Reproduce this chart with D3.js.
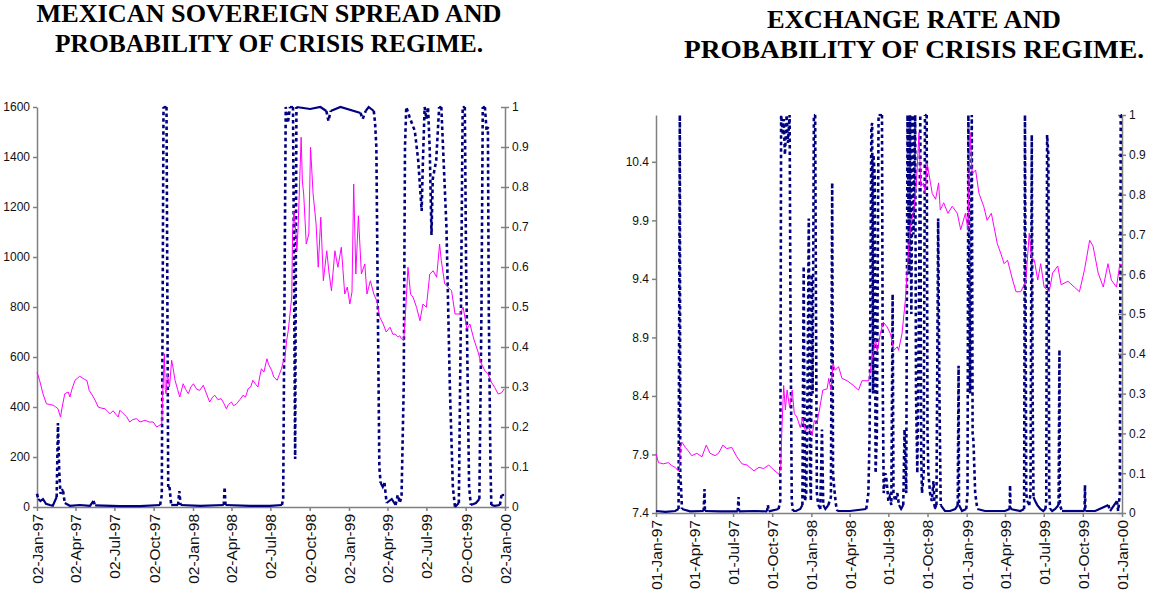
<!DOCTYPE html>
<meta charset="utf-8">
<title>Crisis regime probability</title>
<style>
    body { margin: 0; background: #fff; }
    .title { font: bold 25px "Liberation Serif", "Times New Roman", serif; fill: #000; text-anchor: middle; }
    .axis text { font: 12px "Liberation Sans", Arial, sans-serif; fill: #111; }
    .axis--x text { font-size: 15.5px; }
    .axis path, .axis line { stroke: #808080; stroke-width: 1.5; }
</style>
<body>
<svg id="chart" width="1151" height="593"></svg>
<script src="https://d3js.org/d3.v7.min.js"></script>
<script>
    // ---- data ----
    // Mexican sovereign spread (basis points), left panel
    var spreadSeries = [
        ["1997-01-02",540],["1997-01-08",507],["1997-01-16",453],["1997-01-24",413],["1997-02-01",410],["1997-02-09",407],
        ["1997-02-15",400],["1997-02-20",393],["1997-02-26",360],["1997-03-02",400],["1997-03-08",453],["1997-03-16",460],
        ["1997-03-20",440],["1997-03-24",467],["1997-04-01",507],["1997-04-12",523],["1997-04-24",510],["1997-04-29",505],
        ["1997-05-04",467],["1997-05-14",440],["1997-05-20",420],["1997-05-25",400],["1997-06-03",395],["1997-06-10",393],
        ["1997-06-22",373],["1997-06-29",385],["1997-07-06",370],["1997-07-11",360],["1997-07-15",387],["1997-07-22",375],
        ["1997-07-31",360],["1997-08-07",340],["1997-08-14",350],["1997-08-23",353],["1997-08-31",340],["1997-09-12",347],
        ["1997-09-21",340],["1997-10-01",340],["1997-10-09",320],["1997-10-14",325],["1997-10-21",333],["1997-10-23",450],
        ["1997-10-27",613],["1997-10-29",470],["1997-10-31",453],["1997-11-03",533],["1997-11-08",480],["1997-11-13",587],
        ["1997-11-16",560],["1997-11-21",507],["1997-11-27",470],["1997-12-02",440],["1997-12-10",493],["1997-12-16",470],
        ["1997-12-22",453],["1997-12-28",480],["1998-01-03",493],["1998-01-11",470],["1998-01-18",467],["1998-01-26",487],
        ["1998-02-01",460],["1998-02-10",420],["1998-02-17",440],["1998-02-22",447],["1998-03-01",430],["1998-03-09",433],
        ["1998-03-15",415],["1998-03-21",393],["1998-03-26",410],["1998-04-02",420],["1998-04-07",405],["1998-04-14",413],
        ["1998-04-22",430],["1998-04-29",447],["1998-05-05",440],["1998-05-11",473],["1998-05-17",480],["1998-05-22",507],
        ["1998-05-29",490],["1998-06-03",480],["1998-06-07",520],["1998-06-11",553],["1998-06-17",540],["1998-06-24",593],
        ["1998-06-28",570],["1998-07-05",547],["1998-07-10",520],["1998-07-18",507],["1998-07-23",530],["1998-07-28",553],
        ["1998-08-01",580],["1998-08-05",593],["1998-08-09",665],["1998-08-13",707],["1998-08-17",773],["1998-08-21",840],
        ["1998-08-23",1100],["1998-08-26",1185],["1998-08-31",1090],["1998-09-02",1025],["1998-09-05",1118],["1998-09-12",1479],
        ["1998-09-15",1300],["1998-09-18",1252],["1998-09-24",1052],["1998-09-30",1092],["1998-10-04",1439],["1998-10-10",1252],
        ["1998-10-17",1132],["1998-10-22",959],["1998-10-28",1159],["1998-11-03",905],["1998-11-11",1025],["1998-11-16",940],
        ["1998-11-22",865],["1998-11-30",1025],["1998-12-07",959],["1998-12-15",1039],["1998-12-23",852],["1998-12-29",880],
        ["1999-01-04",812],["1999-01-09",860],["1999-01-13",1292],["1999-01-18",932],["1999-01-24",1165],["1999-01-31",932],
        ["1999-02-08",972],["1999-02-13",852],["1999-02-21",905],["1999-03-01",852],["1999-03-08",825],["1999-03-15",759],
        ["1999-03-23",732],["1999-03-30",700],["1999-04-08",719],["1999-04-15",690],["1999-04-20",692],["1999-04-27",680],
        ["1999-05-01",685],["1999-05-05",672],["1999-05-10",665],["1999-05-15",800],["1999-05-20",959],["1999-05-26",852],
        ["1999-06-01",839],["1999-06-09",799],["1999-06-17",745],["1999-06-24",812],["1999-07-02",799],["1999-07-10",932],
        ["1999-07-18",945],["1999-07-26",919],["1999-08-02",1052],["1999-08-06",985],["1999-08-14",892],["1999-08-22",879],
        ["1999-08-30",865],["1999-09-07",772],["1999-09-19",772],["1999-09-26",799],["1999-10-05",712],["1999-10-12",732],
        ["1999-10-21",672],["1999-10-31",620],["1999-11-07",576],["1999-11-16",545],["1999-11-23",533],["1999-12-01",500],
        ["1999-12-09",478],["1999-12-17",452],["1999-12-25",457],["1999-12-31",472]
    ];

    // probability of crisis regime, left panel
    var spreadProb = [
        ["1997-01-02",0.033],["1997-01-05",0.02],["1997-01-10",0.015],["1997-01-16",0.02],["1997-01-23",0.008],["1997-02-01",0.005],
        ["1997-02-08",0.003],["1997-02-17",0.025],["1997-02-20",0.21],["1997-02-23",0.09],["1997-02-26",0.033],["1997-03-01",0.045],
        ["1997-03-04",0.04],["1997-03-08",0.01],["1997-03-20",0.003],["1997-04-12",0.005],["1997-05-06",0.003],["1997-05-14",0.015],
        ["1997-05-18",0.004],["1997-07-15",0.002],["1997-08-31",0.002],["1997-10-17",0.005],["1997-10-21",0.03],["1997-10-25",1.0],
        ["1997-11-01",1.0],["1997-11-05",0.05],["1997-11-08",0.05],["1997-11-12",0.005],["1997-11-28",0.005],["1997-12-01",0.04],
        ["1997-12-04",0.005],["1998-01-19",0.003],["1998-03-15",0.005],["1998-03-17",0.05],["1998-03-19",0.005],["1998-05-15",0.003],
        ["1998-07-01",0.003],["1998-07-29",0.005],["1998-08-01",0.02],["1998-08-07",1.0],["1998-08-12",0.96],["1998-08-17",1.0],
        ["1998-08-24",1.0],["1998-08-29",0.12],["1998-09-01",1.0],["1998-10-03",0.995],["1998-10-27",1.0],["1998-11-10",0.99],
        ["1998-11-15",0.965],["1998-11-20",0.99],["1998-12-13",1.0],["1999-01-29",0.985],["1999-02-03",0.97],["1999-02-10",0.99],
        ["1999-02-17",1.0],["1999-03-01",0.99],["1999-03-04",0.96],["1999-03-07",0.9],["1999-03-10",0.55],["1999-03-14",0.1],
        ["1999-03-17",0.06],["1999-03-22",0.05],["1999-03-26",0.06],["1999-03-31",0.01],["1999-04-12",0.02],["1999-04-21",0.005],
        ["1999-04-26",0.03],["1999-05-01",0.01],["1999-05-05",0.03],["1999-05-10",0.3],["1999-05-13",0.9],["1999-05-16",1.0],
        ["1999-05-24",0.974],["1999-06-05",0.94],["1999-06-13",0.866],["1999-06-21",0.74],["1999-06-24",0.866],["1999-06-28",1.0],
        ["1999-07-02",0.97],["1999-07-06",1.0],["1999-07-10",0.89],["1999-07-14",0.68],["1999-07-17",0.82],["1999-07-25",0.866],
        ["1999-08-01",1.0],["1999-08-06",1.0],["1999-08-10",0.9],["1999-08-18",0.7],["1999-08-26",0.3],["1999-09-02",0.05],
        ["1999-09-07",0.0],["1999-09-16",0.01],["1999-09-21",0.5],["1999-09-25",1.0],["1999-09-30",1.0],["1999-10-03",0.6],
        ["1999-10-10",0.05],["1999-10-14",0.005],["1999-10-26",0.01],["1999-11-03",0.02],["1999-11-08",0.5],["1999-11-11",1.0],
        ["1999-11-16",1.0],["1999-11-20",0.94],["1999-11-23",0.95],["1999-11-25",0.5],["1999-11-29",0.1],["1999-12-01",0.005],
        ["1999-12-09",0.003],["1999-12-21",0.005],["1999-12-25",0.03],["1999-12-31",0.03]
    ];

    // peso / dollar exchange rate, right panel
    var fxSeries = [
        ["1997-01-01",7.906],["1997-01-07",7.83],["1997-01-18",7.82],["1997-01-30",7.83],["1997-02-07",7.805],["1997-02-15",7.79],
        ["1997-02-22",7.76],["1997-02-25",7.76],["1997-02-27",7.96],["1997-03-03",8.005],["1997-03-11",7.96],["1997-03-18",7.93],
        ["1997-03-26",7.89],["1997-04-07",7.91],["1997-04-19",7.88],["1997-04-29",7.98],["1997-05-08",7.91],["1997-05-20",7.89],
        ["1997-05-28",7.91],["1997-06-07",7.98],["1997-06-16",7.95],["1997-06-28",7.96],["1997-07-10",7.88],["1997-07-22",7.82],
        ["1997-08-03",7.81],["1997-08-19",7.76],["1997-08-31",7.79],["1997-09-11",7.78],["1997-09-23",7.81],["1997-10-01",7.78],
        ["1997-10-17",7.73],["1997-10-21",7.79],["1997-10-24",8.13],["1997-10-28",8.49],["1997-11-01",8.28],["1997-11-05",8.45],
        ["1997-11-11",8.30],["1997-11-17",8.45],["1997-11-22",8.25],["1997-11-28",8.22],["1997-12-06",8.13],["1997-12-12",8.21],
        ["1997-12-18",8.10],["1997-12-26",8.13],["1998-01-03",8.06],["1998-01-08",8.19],["1998-01-14",8.16],["1998-01-20",8.28],
        ["1998-01-28",8.45],["1998-02-07",8.46],["1998-02-11",8.55],["1998-02-16",8.45],["1998-02-21",8.68],["1998-02-26",8.62],
        ["1998-03-06",8.65],["1998-03-14",8.55],["1998-03-26",8.53],["1998-04-10",8.49],["1998-04-22",8.45],["1998-04-30",8.53],
        ["1998-05-16",8.53],["1998-05-24",8.72],["1998-06-01",8.88],["1998-06-05",8.78],["1998-06-12",8.93],["1998-06-19",9.03],
        ["1998-06-28",8.99],["1998-07-06",8.93],["1998-07-14",8.79],["1998-07-22",8.82],["1998-07-25",8.79],["1998-08-02",8.93],
        ["1998-08-10",9.22],["1998-08-18",9.68],["1998-08-22",9.85],["1998-08-30",9.99],["1998-09-05",10.22],["1998-09-11",10.65],
        ["1998-09-15",10.19],["1998-09-22",10.22],["1998-09-26",10.13],["1998-09-30",10.39],["1998-10-08",10.22],["1998-10-12",10.13],
        ["1998-10-20",10.08],["1998-10-27",10.22],["1998-10-31",9.99],["1998-11-08",10.05],["1998-11-18",9.96],["1998-11-28",10.02],
        ["1998-12-10",9.96],["1998-12-18",9.82],["1998-12-29",9.96],["1999-01-04",9.82],["1999-01-09",10.65],["1999-01-14",10.30],
        ["1999-01-22",10.33],["1999-01-30",10.13],["1999-02-10",10.02],["1999-02-18",9.90],["1999-02-28",9.96],["1999-03-06",9.85],
        ["1999-03-14",9.70],["1999-03-22",9.62],["1999-03-30",9.53],["1999-04-07",9.56],["1999-04-19",9.39],["1999-04-27",9.29],
        ["1999-05-08",9.29],["1999-05-20",9.38],["1999-05-28",9.79],["1999-06-02",9.59],["1999-06-09",9.56],["1999-06-17",9.39],
        ["1999-06-24",9.53],["1999-07-02",9.33],["1999-07-14",9.29],["1999-07-22",9.45],["1999-08-03",9.51],["1999-08-11",9.35],
        ["1999-08-27",9.38],["1999-09-11",9.33],["1999-09-23",9.29],["1999-10-05",9.48],["1999-10-17",9.73],["1999-10-25",9.68],
        ["1999-11-06",9.45],["1999-11-18",9.33],["1999-11-29",9.53],["1999-12-07",9.39],["1999-12-19",9.33],["1999-12-27",9.53],
        ["1999-12-31",9.51]
    ];

    // probability of crisis regime, right panel
    var fxProb = [
        ["1997-01-01",0.005],["1997-01-23",0.003],["1997-02-15",0.005],["1997-02-23",0.01],["1997-02-26",1.0],["1997-02-27",0.1],
        ["1997-03-01",0.06],["1997-03-03",0.01],["1997-03-22",0.004],["1997-04-23",0.005],["1997-04-25",0.06],["1997-04-26",0.005],
        ["1997-06-01",0.004],["1997-07-12",0.004],["1997-07-14",0.04],["1997-07-15",0.004],["1997-08-22",0.005],["1997-09-19",0.004],
        ["1997-09-21",0.02],["1997-09-23",0.004],["1997-10-16",0.01],["1997-10-20",0.03],["1997-10-22",1.0],["1997-10-26",0.95],
        ["1997-10-28",0.99],["1997-10-31",0.9],["1997-11-04",1.0],["1997-11-07",0.93],["1997-11-11",1.0],["1997-11-13",0.5],
        ["1997-11-16",0.03],["1997-11-19",0.005],["1997-11-26",0.005],["1997-12-06",0.01],["1997-12-11",0.02],["1997-12-14",0.62],
        ["1997-12-17",0.03],["1997-12-20",0.05],["1997-12-23",0.3],["1997-12-26",0.74],["1997-12-29",0.1],["1997-12-31",0.03],
        ["1998-01-02",0.6],["1998-01-04",0.3],["1998-01-07",1.0],["1998-01-10",1.0],["1998-01-12",0.5],["1998-01-14",0.05],
        ["1998-01-17",0.02],["1998-01-22",0.01],["1998-01-26",0.21],["1998-01-29",0.02],["1998-02-03",0.01],["1998-02-10",0.02],
        ["1998-02-16",0.04],["1998-02-19",0.83],["1998-02-21",0.1],["1998-02-24",0.06],["1998-02-28",0.02],["1998-03-03",0.005],
        ["1998-04-02",0.005],["1998-05-10",0.01],["1998-05-15",0.05],["1998-05-18",0.2],["1998-05-22",0.97],["1998-05-24",0.98],
        ["1998-05-26",0.3],["1998-05-27",0.9],["1998-05-30",0.85],["1998-06-01",0.1],["1998-06-04",0.2],["1998-06-08",1.0],
        ["1998-06-12",1.0],["1998-06-16",1.0],["1998-06-18",0.3],["1998-06-20",0.05],["1998-06-24",0.1],["1998-06-27",0.08],
        ["1998-07-01",0.03],["1998-07-04",0.04],["1998-07-08",0.02],["1998-07-11",0.55],["1998-07-13",0.05],["1998-07-17",0.03],
        ["1998-07-22",0.05],["1998-07-26",0.02],["1998-07-31",0.01],["1998-08-05",0.02],["1998-08-08",0.21],["1998-08-12",0.05],
        ["1998-08-15",1.0],["1998-08-19",0.6],["1998-08-21",1.0],["1998-08-24",0.5],["1998-08-27",1.0],["1998-08-29",0.7],
        ["1998-09-02",1.0],["1998-09-04",0.3],["1998-09-07",0.1],["1998-09-10",0.4],["1998-09-14",1.0],["1998-09-16",0.15],
        ["1998-09-18",0.05],["1998-09-22",0.1],["1998-09-25",1.0],["1998-09-29",1.0],["1998-10-01",0.2],["1998-10-03",0.1],
        ["1998-10-07",0.05],["1998-10-11",0.03],["1998-10-15",0.08],["1998-10-18",0.01],["1998-10-22",0.02],["1998-10-26",0.74],
        ["1998-10-29",0.3],["1998-11-01",0.02],["1998-11-11",0.005],["1998-11-23",0.005],["1998-12-05",0.01],["1998-12-11",0.02],
        ["1998-12-13",0.37],["1998-12-14",0.02],["1998-12-21",0.005],["1998-12-31",0.01],["1999-01-03",0.05],["1999-01-05",1.0],
        ["1999-01-09",0.3],["1999-01-13",1.0],["1999-01-15",0.2],["1999-01-17",0.18],["1999-01-21",0.05],["1999-01-26",0.01],
        ["1999-02-13",0.005],["1999-03-09",0.005],["1999-04-01",0.005],["1999-04-12",0.01],["1999-04-13",0.07],["1999-04-14",0.01],
        ["1999-05-07",0.005],["1999-05-16",0.01],["1999-05-18",1.0],["1999-05-21",0.05],["1999-05-23",0.03],["1999-05-28",0.02],
        ["1999-05-31",0.05],["1999-06-03",0.95],["1999-06-05",0.3],["1999-06-07",0.04],["1999-06-11",0.03],["1999-06-16",0.02],
        ["1999-06-23",0.01],["1999-06-30",0.005],["1999-07-05",0.01],["1999-07-07",0.03],["1999-07-09",0.95],["1999-07-12",0.9],
        ["1999-07-14",0.05],["1999-07-16",0.01],["1999-07-21",0.005],["1999-07-28",0.01],["1999-08-05",0.02],["1999-08-07",0.41],
        ["1999-08-08",0.02],["1999-08-13",0.005],["1999-09-13",0.005],["1999-10-05",0.005],["1999-10-06",0.07],["1999-10-07",0.005],
        ["1999-10-30",0.005],["1999-11-30",0.02],["1999-12-04",0.005],["1999-12-20",0.03],["1999-12-23",0.005],["1999-12-27",0.05],
        ["1999-12-29",1.0],["2000-01-01",1.0]
    ];

    var spreadTicks = ["1997-01-02","1997-04-02","1997-07-02","1997-10-02","1998-01-02","1998-04-02","1998-07-02",
        "1998-10-02","1999-01-02","1999-04-02","1999-07-02","1999-10-02","2000-01-02"];
    var fxTicks = ["1997-01-01","1997-04-01","1997-07-01","1997-10-01","1998-01-01","1998-04-01","1998-07-01",
        "1998-10-01","1999-01-01","1999-04-01","1999-07-01","1999-10-01","2000-01-01"];
    var spreadLevels = [0, 200, 400, 600, 800, 1000, 1200, 1400, 1600];
    var fxLevels = [7.4, 7.9, 8.4, 8.9, 9.4, 9.9, 10.4];
    var probLevels = [0, 0.1, 0.2, 0.3, 0.4, 0.5, 0.6, 0.7, 0.8, 0.9, 1];

    var parseDate = d3.timeParse("%Y-%m-%d");
    var svg = d3.select("#chart");

    drawPanel({
        title: ["MEXICAN SOVEREIGN SPREAD AND", "PROBABILITY OF CRISIS REGIME."],
        titleX: 269, titleY: [22, 52], titleW: [465, 428],
        left: 37, right: 505, top: 107, bottom: 507,
        xDomain: ["1997-01-02", "2000-01-02"], xTicks: spreadTicks,
        yDomain: [0, 1600], yTicks: spreadLevels, yFormat: d3.format("d"),
        level: spreadSeries, prob: spreadProb
    });
    drawPanel({
        title: ["EXCHANGE RATE AND", "PROBABILITY OF CRISIS REGIME."],
        titleX: 914, titleY: [28, 58], titleW: [294, 460],
        left: 656, right: 1122, top: 115, bottom: 513,
        xDomain: ["1997-01-01", "2000-01-01"], xTicks: fxTicks,
        yDomain: [7.4, 10.8], yTicks: fxLevels, yFormat: d3.format(".1f"),
        level: fxSeries, prob: fxProb
    });

    function drawPanel(o) {
        var g = svg.append("g");
        var x = d3.scaleTime().domain(o.xDomain.map(parseDate)).range([o.left, o.right]);
        var y = d3.scaleLinear().domain(o.yDomain).range([o.bottom, o.top]);
        var yp = d3.scaleLinear().domain([0, 1]).range([o.bottom, o.top]);

        g.selectAll(".title").data(o.title).join("text")
            .attr("class", "title")
            .attr("x", o.titleX)
            .attr("y", function(d, i) { return o.titleY[i]; })
            .attr("textLength", function(d, i) { return o.titleW[i]; })
            .attr("lengthAdjust", "spacingAndGlyphs")
            .text(function(d) { return d; });

        g.append("g")
            .attr("class", "axis axis--x")
            .attr("transform", "translate(0," + o.bottom + ")")
            .call(d3.axisBottom(x)
                .tickValues(o.xTicks.map(parseDate))
                .tickFormat(d3.timeFormat("%d-%b-%y"))
                .tickSize(4).tickSizeOuter(0))
            .selectAll("text")
            .attr("transform", "rotate(-90)")
            .attr("x", -7).attr("y", 0).attr("dy", "0.35em")
            .style("text-anchor", "end");

        g.append("g")
            .attr("class", "axis axis--y")
            .attr("transform", "translate(" + o.left + ",0)")
            .call(d3.axisLeft(y).tickValues(o.yTicks).tickFormat(o.yFormat).tickSize(4).tickSizeOuter(0));

        var right = g.append("g")
            .attr("class", "axis axis--p")
            .attr("transform", "translate(" + o.right + ",0)")
            .call(d3.axisRight(yp).tickValues(probLevels).tickFormat(d3.format(".1~f")).tickSize(4).tickSizeOuter(0));
        right.selectAll(".tick line").attr("x1", -4);

        drawProb(g, o.prob, x, yp);

        g.append("path")
            .datum(o.level)
            .attr("fill", "none")
            .attr("stroke", "#ff00ff")
            .attr("stroke-width", 1)
            .attr("d", d3.line()
                .x(function(d) { return x(parseDate(d[0])); })
                .y(function(d) { return y(d[1]); }));
    }

    // Excel restarts the dash at every daily point, so flat stretches come out solid
    // and only the steep moves show the dashes.
    function drawProb(g, data, x, y) {
        var pts = data.map(function(d) {
            var t = parseDate(d[0]);
            return [x(t), y(d[1]), t];
        });
        var runs = [], cur = null;
        for (var i = 1; i < pts.length; i++) {
            var a = pts[i - 1], b = pts[i];
            var steps = Math.max(1, (b[2] - a[2]) / 864e5 * 5 / 7);
            var dashed = Math.abs(b[1] - a[1]) / steps > 1.5;
            if (!cur || cur.dashed !== dashed) {
                cur = {dashed: dashed, pts: [a]};
                runs.push(cur);
            }
            cur.pts.push(b);
        }
        g.append("g").selectAll("path")
            .data(runs)
            .join("path")
            .attr("fill", "none")
            .attr("stroke", "#000080")
            .attr("stroke-width", function(r) { return r.dashed ? 2.6 : 2.2; })
            .attr("stroke-dasharray", function(r) { return r.dashed ? "3.5,3" : null; })
            .attr("d", function(r) { return d3.line()(r.pts.map(function(p) { return [p[0], p[1]]; })); });
    }
</script>
</body>
